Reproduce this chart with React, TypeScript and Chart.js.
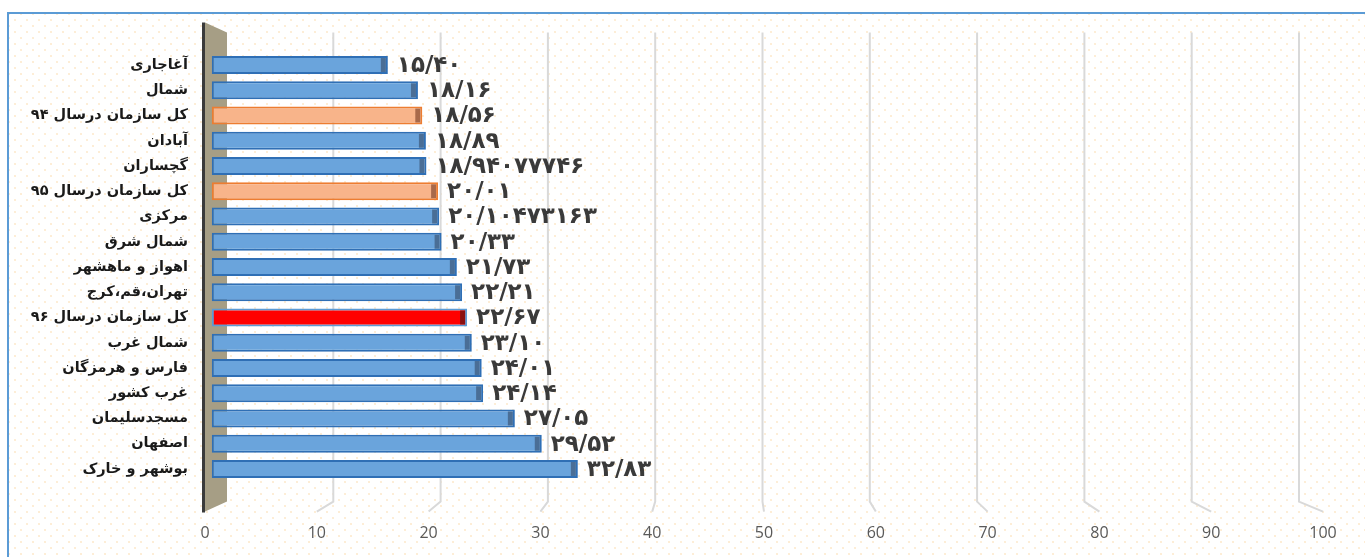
import React, { useEffect, useRef } from "react";
import { Chart, registerables } from "chart.js";

Chart.register(...registerables);

const categories = [
  "آغاجاری",
  "شمال",
  "کل سازمان درسال ۹۴",
  "آبادان",
  "گچساران",
  "کل سازمان درسال ۹۵",
  "مرکزی",
  "شمال شرق",
  "اهواز و ماهشهر",
  "تهران،قم،کرج",
  "کل سازمان درسال ۹۶",
  "شمال غرب",
  "فارس و هرمزگان",
  "غرب کشور",
  "مسجدسلیمان",
  "اصفهان",
  "بوشهر و خارک",
];

const values = [
  15.4, 18.16, 18.56, 18.89, 18.94077746, 20.01, 20.10473163, 20.33, 21.73,
  22.21, 22.67, 23.1, 24.01, 24.14, 27.05, 29.52, 32.83,
];

const valueLabels = [
  "۱۵/۴۰",
  "۱۸/۱۶",
  "۱۸/۵۶",
  "۱۸/۸۹",
  "۱۸/۹۴۰۷۷۷۴۶",
  "۲۰/۰۱",
  "۲۰/۱۰۴۷۳۱۶۳",
  "۲۰/۳۳",
  "۲۱/۷۳",
  "۲۲/۲۱",
  "۲۲/۶۷",
  "۲۳/۱۰",
  "۲۴/۰۱",
  "۲۴/۱۴",
  "۲۷/۰۵",
  "۲۹/۵۲",
  "۳۲/۸۳",
];

const barKinds = [
  "blue", "blue", "orange", "blue", "blue", "orange", "blue", "blue", "blue",
  "blue", "red", "blue", "blue", "blue", "blue", "blue", "blue",
];

const xTicks = [0, 10, 20, 30, 40, 50, 60, 70, 80, 90, 100];

const FILL: Record<string, string> = { blue: "#6aa4dc", orange: "#f8b48a", red: "#ff0000" };
const BORDER: Record<string, string> = { blue: "#2f6fb5", orange: "#ed7d31", red: "#5b9bd5" };
const CAP: Record<string, string> = { blue: "#4a6e96", orange: "#a8694a", red: "#8b1010" };

const threeD = {
  id: "threeD",
  beforeDatasetsDraw(chart: any) {
    const { ctx, chartArea } = chart;
    const x = chart.scales.x;
    const p0 = x.getPixelForValue(0);
    const backX = (v: number) => p0 + 6 + (x.getPixelForValue(v) - p0) * 0.9844;
    const frontX = (v: number) => p0 - 15 + (x.getPixelForValue(v) - p0) * 1.0257;
    const top = chartArea.top;
    const bot = chartArea.bottom;
    ctx.save();
    ctx.strokeStyle = "#d9d9d9";
    ctx.lineWidth = 2;
    xTicks.forEach((v) => {
      if (v === 0) return;
      ctx.beginPath();
      ctx.moveTo(backX(v), top - 20);
      ctx.lineTo(backX(v), bot + 20);
      ctx.lineTo(frontX(v), bot + 30);
      ctx.stroke();
    });
    ctx.fillStyle = "#a69e85";
    ctx.beginPath();
    ctx.moveTo(p0 - 15, top - 30);
    ctx.lineTo(p0 + 7, top - 20);
    ctx.lineTo(p0 + 7, bot + 20);
    ctx.lineTo(p0 - 15, bot + 30);
    ctx.closePath();
    ctx.fill();
    ctx.strokeStyle = "#3a3a3a";
    ctx.lineWidth = 3;
    ctx.beginPath();
    ctx.moveTo(p0 - 16.5, top - 30);
    ctx.lineTo(p0 - 16.5, bot + 31);
    ctx.stroke();
    ctx.fillStyle = "#595959";
    ctx.font = '16px "Open Sans"';
    ctx.textAlign = "center";
    ctx.textBaseline = "middle";
    xTicks.forEach((v) => {
      ctx.fillText(String(v), frontX(v), bot + 51.5);
    });
    ctx.restore();
  },
  afterDatasetsDraw(chart: any) {
    const { ctx } = chart;
    const meta = chart.getDatasetMeta(0);
    ctx.save();
    meta.data.forEach((bar: any, i: number) => {
      const kind = barKinds[i];
      const h = bar.height;
      ctx.fillStyle = CAP[kind];
      ctx.fillRect(bar.x - 7, bar.y - h / 2 + 2, 5, h - 4);
      ctx.fillStyle = "#3a3a3a";
      ctx.font = 'bold 23px "DejaVu Sans"';
      ctx.textAlign = "left";
      ctx.textBaseline = "middle";
      ctx.fillText(valueLabels[i], bar.x + 9, bar.y + 1);
    });
    ctx.restore();
  },
};

export default function App() {
  const ref = useRef<HTMLCanvasElement | null>(null);
  useEffect(() => {
    document.body.style.overflow = "hidden";
    const chart = new Chart(ref.current as HTMLCanvasElement, {
      type: "bar",
      data: {
        labels: categories,
        datasets: [
          {
            data: values,
            backgroundColor: barKinds.map((k) => FILL[k]),
            borderColor: barKinds.map((k) => BORDER[k]),
            borderWidth: 2,
            borderSkipped: false,
            base: -0.75,
            clip: false as any,
            barPercentage: 0.71,
            categoryPercentage: 1,
          },
        ],
      },
      options: {
        indexAxis: "y",
        responsive: false,
        animation: false,
        events: [],
        layout: { padding: { top: 38.4, right: 55, left: 0, bottom: 0 } },
        plugins: { legend: { display: false }, tooltip: { enabled: false } },
        scales: {
          x: {
            type: "linear",
            min: 0,
            max: 100,
            ticks: { display: false },
            grid: { display: false },
            border: { display: false },
            afterFit: (s: any) => {
              s.height = 75.4;
              s.paddingLeft = 0;
              s.paddingRight = 0;
            },
          },
          y: {
            type: "category",
            ticks: {
              color: "#1a1a1a",
              font: { family: '"DejaVu Sans"', weight: "bold", size: 14.5 },
              padding: 32,
            },
            grid: { display: false, drawTicks: false },
            border: { display: false },
            afterFit: (s: any) => {
              s.width = 211;
              s.paddingTop = 0;
              s.paddingBottom = 0;
            },
          },
        },
      },
      plugins: [threeD],
    });
    return () => chart.destroy();
  }, []);

  return (
    <div
      style={{
        position: "absolute",
        left: 7,
        top: 12,
        width: 1356,
        height: 543,
        borderTop: "2px solid #5b9bd5",
        borderLeft: "2px solid #5b9bd5",
        backgroundColor: "#ffffff",
        backgroundImage:
          "radial-gradient(circle, rgba(250,205,140,0.35) 1px, transparent 1.3px), radial-gradient(circle, rgba(250,205,140,0.35) 1px, transparent 1.3px)",
        backgroundSize: "12px 12px, 12px 12px",
        backgroundPosition: "0 0, 6px 6px",
        overflow: "hidden",
      }}
    >
      <canvas ref={ref} width={1356} height={543} style={{ display: "block" }} />
    </div>
  );
}
